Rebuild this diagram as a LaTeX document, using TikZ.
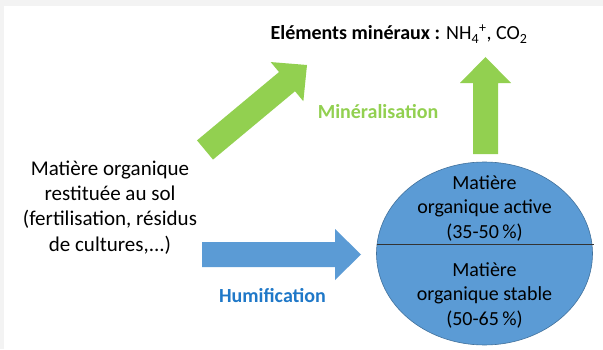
\documentclass[tikz,border=0pt]{standalone}
\usepackage{fontspec}
\setmainfont{Carlito}
\usetikzlibrary{calc,shapes.geometric}
\definecolor{grn}{HTML}{92D050}
\definecolor{blu}{HTML}{5B9BD5}
\definecolor{bluedge}{HTML}{41719C}
\definecolor{blutext}{HTML}{1F78C8}
\definecolor{bggray}{HTML}{F3F3F3}
\newcommand{\blockarrow}[3]{%
  \coordinate (#1-#2-h) at ($(#2)!26pt!(#1)$);
  \fill[#3] ($(#1)!12.5pt!90:(#2)$) -- ($(#1-#2-h)!12.5pt!90:(#2)$) -- ($(#1-#2-h)!25.5pt!90:(#2)$)
    -- (#2) -- ($(#1-#2-h)!25.5pt!-90:(#2)$) -- ($(#1-#2-h)!12.5pt!-90:(#2)$) -- ($(#1)!12.5pt!-90:(#2)$) -- cycle;}
\tikzset{
  txt/.style={font=\fontsize{20}{24.5}\selectfont, align=center, inner sep=0pt, text=black},
  bigtxt/.style={font=\fontsize{21}{25.3}\selectfont, align=center, inner sep=0pt, text=black},
  lbl/.style={font=\fontsize{20}{24.5}\selectfont\bfseries, inner sep=0pt},
}
\begin{document}
\begin{tikzpicture}[x=1pt,y=1pt]
\useasboundingbox (0,0) rectangle (603,349);
\fill[white] (0,0) rectangle (603,349);
\fill[bggray] (0,343) rectangle (603,349);
\fill[bggray] (0,0) rectangle (4,349);

% coordinates for block arrows
\coordinate (dtail) at (205,199);
\coordinate (dtip) at (307,284);
\coordinate (vtail) at (485.5,195);
\coordinate (vtip) at (485.5,292);
\coordinate (htail) at (202,94.5);
\coordinate (htip) at (361,94.5);

\blockarrow{dtail}{dtip}{grn}
\blockarrow{vtail}{vtip}{grn}
\blockarrow{htail}{htip}{blu}

% ellipse
\node[draw=bluedge, line width=0.6pt, fill=blu, ellipse, minimum width=216pt, minimum height=183pt, inner sep=0pt] (ell) at (484.5,95.5) {};
\coordinate (lineW) at ($(ell.center)+(-108,9.5)$);
\coordinate (lineE) at ($(ell.center)+(109,9.5)$);
\draw[line width=0.6pt, black!80] (lineW) -- (lineE);

\node[txt] (active) at (484.5,141) {Matière\\organique active\\(35-50\,\%)};
\node[txt] (stable) at (484.5,54) {Matière\\organique stable\\(50-65\,\%)};

\node[bigtxt] (mo) at (110,141.5) {Matière organique\\restituée au sol\\(fertilisation, résidus\\de cultures,...)};

\node[txt, anchor=base] (title) at (399,309) {\textbf{Eléments minéraux :} NH\textsubscript{4}\textsuperscript{+}, CO\textsubscript{2}};

\node[lbl, text=grn] (mineral) at (378,237) {Minéralisation};
\node[lbl, text=blutext] (humif) at (272.5,53) {Humification};
\end{tikzpicture}
\end{document}
